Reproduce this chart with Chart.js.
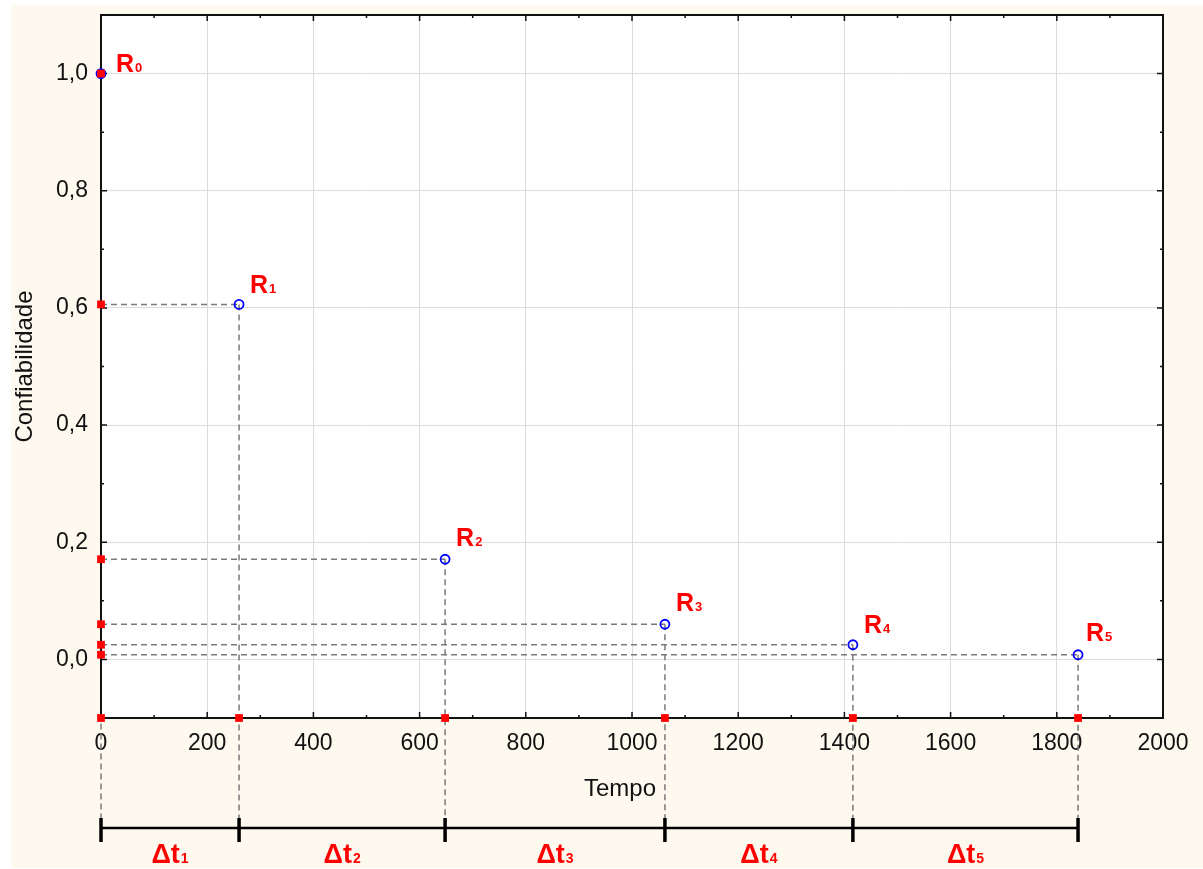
<!DOCTYPE html>
<html><head><meta charset="utf-8">
<script src="https://cdn.jsdelivr.net/npm/chart.js@4.4.1/dist/chart.umd.min.js"></script>
<style>html,body{margin:0;padding:0;background:#fff;}#wrap{width:1203px;height:869px;position:relative;}</style>
</head><body><div id="wrap"><canvas id="c"></canvas></div>
<script>
// ---- data ----
const times = [0, 260, 648, 1062, 1416, 1840];
const reliability = [1.0, 0.606, 0.171, 0.060, 0.025, 0.008];
const pointSubscripts = ['0', '1', '2', '3', '4', '5'];
const intervalSubscripts = ['1', '2', '3', '4', '5'];
const xTicks = [0, 200, 400, 600, 800, 1000, 1200, 1400, 1600, 1800, 2000];
const xTickLabels = ['0', '200', '400', '600', '800', '1000', '1200', '1400', '1600', '1800', '2000'];
const yTicks = [0, 0.2, 0.4, 0.6, 0.8, 1.0];
const yTickLabels = ['0,0', '0,2', '0,4', '0,6', '0,8', '1,0'];
const xRange = [0, 2000];
const yRange = [-0.1, 1.1];
const xMinorStep = 100;
const yMinorStep = 0.1;
const xTitle = 'Tempo';
const yTitle = 'Confiabilidade';

// ---- style ----
const RED = '#ff0000', BLUE = '#0000ff', GUIDE = '#7a7a7a', CREAM = '#fef9ee';
const labelOffsets = [[15, -2], [11, -11], [11, -13], [11, -13], [11, -12], [8, -14]];
const bracketY = 828, bracketTickTop = 818, bracketTickBottom = 842, intervalLabelBaseline = 863;

const decor = {
  id: 'decor',
  beforeDraw(chart) {
    const ctx = chart.ctx, a = chart.chartArea;
    ctx.save();
    ctx.fillStyle = '#fff'; ctx.fillRect(0, 0, chart.width, chart.height);
    ctx.fillStyle = CREAM; ctx.fillRect(11, 5, chart.width - 11, chart.height - 6);
    ctx.fillStyle = '#fff'; ctx.fillRect(a.left, a.top, a.right - a.left, a.bottom - a.top);
    ctx.restore();
  },
  beforeDatasetsDraw(chart) {
    const ctx = chart.ctx, a = chart.chartArea, xs = chart.scales.x, ys = chart.scales.y;
    ctx.save();
    // dashed guides
    ctx.strokeStyle = GUIDE; ctx.lineWidth = 1.5; ctx.setLineDash([6, 4]);
    const x0 = xs.getPixelForValue(xRange[0]);
    times.forEach((t, i) => {
      const px = xs.getPixelForValue(t), py = ys.getPixelForValue(reliability[i]);
      ctx.beginPath();
      if (i > 0) { ctx.moveTo(x0, py); ctx.lineTo(px, py); }
      ctx.moveTo(px, py); ctx.lineTo(px, bracketTickTop);
      ctx.stroke();
    });
    ctx.setLineDash([]);
    // frame
    ctx.strokeStyle = '#111'; ctx.lineWidth = 2;
    ctx.strokeRect(a.left, a.top, a.right - a.left, a.bottom - a.top);
    // inward ticks
    ctx.lineWidth = 1.5; ctx.beginPath();
    for (let k = 0; xRange[0] + k * xMinorStep <= xRange[1]; k++) {
      const v = xRange[0] + k * xMinorStep, px = xs.getPixelForValue(v);
      const len = (k % 2 === 0) ? 6 : 3;
      ctx.moveTo(px, a.bottom); ctx.lineTo(px, a.bottom - len);
      ctx.moveTo(px, a.top); ctx.lineTo(px, a.top + len);
    }
    const nY = Math.round((yRange[1] - yRange[0]) / yMinorStep);
    for (let k = 0; k <= nY; k++) {
      const v = yRange[0] + k * yMinorStep, py = ys.getPixelForValue(v);
      const len = (Math.round(v * 10) % 2 === 0) ? 6 : 3;
      ctx.moveTo(a.left, py); ctx.lineTo(a.left + len, py);
      ctx.moveTo(a.right, py); ctx.lineTo(a.right - len, py);
    }
    ctx.stroke();
    ctx.restore();
  },
  afterDatasetsDraw(chart) {
    const ctx = chart.ctx, a = chart.chartArea, xs = chart.scales.x, ys = chart.scales.y;
    ctx.save();
    ctx.fillStyle = RED; ctx.textBaseline = 'alphabetic'; ctx.textAlign = 'left';
    // point labels
    times.forEach((t, i) => {
      const px = xs.getPixelForValue(t) + labelOffsets[i][0];
      const py = ys.getPixelForValue(reliability[i]) + labelOffsets[i][1];
      ctx.font = 'bold 25px "Liberation Sans", Arial, sans-serif';
      ctx.fillText('R', px, py);
      const w = ctx.measureText('R').width;
      ctx.font = 'bold 13px "Liberation Sans", Arial, sans-serif';
      ctx.fillText(pointSubscripts[i], px + w + 1, py);
    });
    // bracket
    ctx.strokeStyle = '#000';
    const bx0 = xs.getPixelForValue(times[0]), bx1 = xs.getPixelForValue(times[times.length - 1]);
    ctx.lineWidth = 2.5; ctx.beginPath(); ctx.moveTo(bx0, bracketY); ctx.lineTo(bx1, bracketY); ctx.stroke();
    ctx.lineWidth = 3.5; ctx.beginPath();
    times.forEach(t => { const px = xs.getPixelForValue(t); ctx.moveTo(px, bracketTickTop); ctx.lineTo(px, bracketTickBottom); });
    ctx.stroke();
    // interval labels
    for (let i = 0; i < times.length - 1; i++) {
      const cx = (xs.getPixelForValue(times[i]) + xs.getPixelForValue(times[i + 1])) / 2;
      ctx.font = 'bold 27px "Liberation Sans", Arial, sans-serif';
      const w1 = ctx.measureText('\u0394t').width;
      ctx.font = 'bold 14px "Liberation Sans", Arial, sans-serif';
      const w2 = ctx.measureText(intervalSubscripts[i]).width;
      const sx = cx - (w1 + 1 + w2) / 2;
      ctx.font = 'bold 27px "Liberation Sans", Arial, sans-serif';
      ctx.fillText('\u0394t', sx, intervalLabelBaseline);
      ctx.font = 'bold 14px "Liberation Sans", Arial, sans-serif';
      ctx.fillText(intervalSubscripts[i], sx + w1 + 1, intervalLabelBaseline);
    }
    // x title
    ctx.fillStyle = '#111'; ctx.textAlign = 'center'; ctx.textBaseline = 'middle';
    ctx.font = '24px "Liberation Sans", Arial, sans-serif';
    ctx.fillText(xTitle, 620, 789);
    ctx.restore();
  }
};

const mainPoints = times.map((t, i) => ({ x: t, y: reliability[i] }));
const yAxisMarks = reliability.map(r => ({ x: xRange[0], y: r }));
const xAxisMarks = times.map(t => ({ x: t, y: yRange[0] }));

new Chart(document.getElementById('c'), {
  type: 'scatter',
  data: {
    datasets: [
      { data: yAxisMarks, pointStyle: 'rect', pointRadius: 5.5, pointBackgroundColor: RED, pointBorderWidth: 0, clip: false },
      { data: xAxisMarks, pointStyle: 'rect', pointRadius: 5.5, pointBackgroundColor: RED, pointBorderWidth: 0, clip: false },
      { data: mainPoints, pointStyle: 'circle', pointRadius: 4.5, pointBorderColor: BLUE, pointBorderWidth: 1.8, pointBackgroundColor: 'rgba(0,0,0,0)', clip: false }
    ]
  },
  options: {
    responsive: true, maintainAspectRatio: false, animation: false, devicePixelRatio: 1,
    layout: { padding: { top: 15, right: 40, left: 0, bottom: 0 } },
    plugins: { legend: { display: false }, tooltip: { enabled: false } },
    scales: {
      x: {
        type: 'linear', min: xRange[0], max: xRange[1],
        afterBuildTicks: s => { s.ticks = xTicks.map(v => ({ value: v })); },
        afterFit: s => { s.height = 151; s.paddingLeft = 0; s.paddingRight = 0; },
        grid: { color: '#dcdcdc', lineWidth: 1, drawTicks: false },
        border: { display: false },
        ticks: { autoSkip: false, maxRotation: 0, padding: 12, color: '#111',
          font: { family: '"Liberation Sans", Arial, sans-serif', size: 23 },
          callback: (v, i) => xTickLabels[i] },
        title: { display: false }
      },
      y: {
        type: 'linear', min: yRange[0], max: yRange[1],
        afterBuildTicks: s => { s.ticks = yTicks.map(v => ({ value: v })); },
        afterFit: s => { s.width = 101; s.paddingTop = 0; s.paddingBottom = 0; },
        grid: { color: '#dcdcdc', lineWidth: 1, drawTicks: false },
        border: { display: false },
        ticks: { autoSkip: false, padding: 13, color: '#111',
          font: { family: '"Liberation Sans", Arial, sans-serif', size: 23 },
          callback: (v, i) => yTickLabels[i] },
        title: { display: true, text: yTitle, color: '#111', padding: { top: 11, bottom: 0 },
          font: { family: '"Liberation Sans", Arial, sans-serif', size: 24 } }
      }
    }
  },
  plugins: [decor]
});
</script></body></html>
